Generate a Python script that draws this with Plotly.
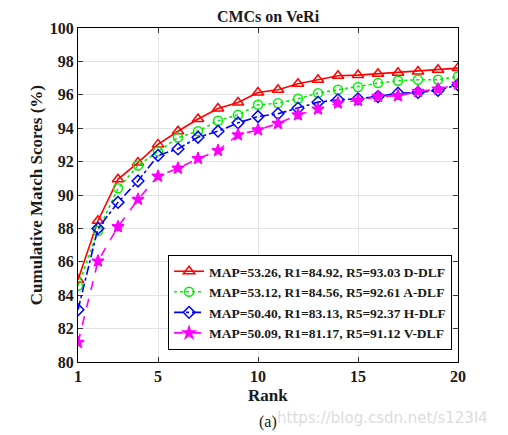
import plotly.graph_objects as go

ranks = list(range(1, 21))
d_dlf = [84.92, 88.46, 90.94, 91.94, 93.03, 93.82, 94.55, 95.18, 95.54, 96.14,
         96.30, 96.66, 96.90, 97.14, 97.18, 97.26, 97.32, 97.40, 97.50, 97.60]
a_dlf = [84.56, 87.84, 90.40, 91.76, 92.61, 93.44, 93.82, 94.45, 94.80, 95.40,
         95.50, 95.76, 96.10, 96.30, 96.46, 96.70, 96.84, 96.90, 96.90, 97.10]
h_dlf = [83.13, 88.00, 89.56, 90.84, 92.37, 92.76, 93.46, 93.82, 94.32, 94.70,
         94.86, 95.20, 95.56, 95.70, 95.76, 95.90, 96.10, 96.14, 96.26, 96.60]
v_dlf = [81.17, 86.04, 88.10, 89.74, 91.12, 91.60, 92.18, 92.66, 93.60, 93.90,
         94.28, 94.80, 95.14, 95.50, 95.66, 95.90, 95.94, 96.20, 96.34, 96.64]
names = ["MAP=53.26, R1=84.92, R5=93.03 D-DLF",
         "MAP=53.12, R1=84.56, R5=92.61 A-DLF",
         "MAP=50.40, R1=83.13, R5=92.37 H-DLF",
         "MAP=50.09, R1=81.17, R5=91.12 V-DLF"]
x_ticks = [1, 5, 10, 15, 20]
y_ticks = list(range(80, 101, 2))

serif = "Liberation Serif, Times New Roman, serif"

styles = [
    dict(color="#ff0000", dash="solid", symbol="triangle-up-open", size=10),
    dict(color="#00ee00", dash="dot", symbol="circle-open", size=9),
    dict(color="#0000ff", dash="dashdot", symbol="diamond-open", size=9),
    dict(color="#ff00ff", dash="dash", symbol="star", size=9),
]

fig = go.Figure()
for ys, nm, st in zip([d_dlf, a_dlf, h_dlf, v_dlf], names, styles):
    fig.add_trace(go.Scatter(
        x=ranks, y=ys, name=nm, mode="lines+markers",
        line=dict(color=st["color"], dash=st["dash"], width=1.6),
        marker=dict(symbol=st["symbol"], size=st["size"], color=st["color"],
                    line=dict(color=st["color"], width=1.5)),
    ))

axis_common = dict(
    showline=True, linecolor="black", linewidth=1, mirror="ticks",
    ticks="inside", ticklen=5, tickcolor="#333333",
    showgrid=True, gridcolor="#e3e3e3", gridwidth=1, zeroline=False,
    tickfont=dict(family=serif, size=16, color="#1a1a1a", weight="bold"),
)

W, H = 500, 427
fig.update_layout(
    width=W, height=H,
    margin=dict(l=70, r=50, t=20, b=73),
    paper_bgcolor="white", plot_bgcolor="white",
    title=dict(text="CMCs on VeRi", x=0.5, xref="paper", xanchor="center",
               y=1 - 3 / H, yref="container", yanchor="top",
               font=dict(family=serif, size=16, color="#1a1a1a", weight="bold")),
    xaxis=dict(range=[1, 20], tickvals=x_ticks, **axis_common),
    yaxis=dict(range=[80, 100], tickvals=y_ticks, **axis_common),
    showlegend=True,
    legend=dict(x=0.237, y=0.036, xanchor="left", yanchor="bottom",
                bgcolor="white", bordercolor="black", borderwidth=1,
                font=dict(family=serif, size=13.5, color="#1a1a1a", weight="bold"),
                tracegroupgap=0, itemwidth=30),
    annotations=[
        dict(text="Rank", x=0.5, y=-0.099, xref="paper", yref="paper",
             showarrow=False, yanchor="middle",
             font=dict(family=serif, size=17, color="#1a1a1a", weight="bold")),
        dict(text="Cumulative Match Scores (%)", x=-0.11, y=0.5, xref="paper", yref="paper",
             showarrow=False, textangle=-90, xanchor="center", yanchor="middle",
             font=dict(family=serif, size=17, color="#1a1a1a", weight="bold")),
        dict(text="(a)", x=0.5, y=-0.18, xref="paper", yref="paper",
             showarrow=False, yanchor="middle",
             font=dict(family=serif, size=16, color="#1a1a1a")),
        dict(text="https://blog.csdn.net/s123l4", x=1.084, y=-0.168,
             xref="paper", yref="paper", showarrow=False,
             xanchor="right", yanchor="middle",
             font=dict(family="DejaVu Sans, sans-serif", size=15, color="#dcdcdc")),
    ],
)

fig.write_html("out.html")
